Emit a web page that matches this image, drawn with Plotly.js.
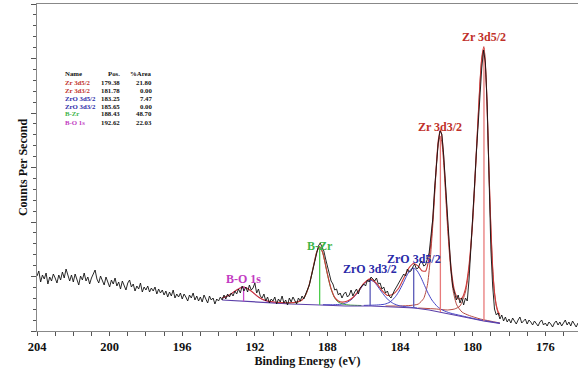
<!DOCTYPE html>
<html><head><meta charset="utf-8">
<script src="https://cdn.plot.ly/plotly-3.0.1.min.js"></script>
<style>html,body{margin:0;padding:0;background:#fff}#chart{width:578px;height:370px}</style>
</head><body><div id="chart"></div>
<script>
// ---- raw spectrum (Binding energy grid 204.0 -> 174.2 eV, step 0.1) ----
const E_START = 204.0, E_STEP = 0.1;
const spectrum = [
 55,60,49,56,52,58,47,54,50,57,
 53,48,56,51,59,53,62,55,50,56,
 49,57,52,46,55,51,58,50,54,47,
 53,58,61,52,48,55,50,46,54,49,
 44,51,47,53,45,49,42,50,46,41,
 48,51,44,47,40,45,42,48,39,44,
 41,45,39,43,40,44,37,42,38,41,
 36,40,34,39,35,41,33,37,34,38,
 32,37,34,30,36,33,38,31,35,30,
 34,29,36,32,28,35,31,33,27,32,
 30,34,31,36,32,37,34,38,35,40,
 37,42,38,45,40,44,39,46,41,43,
 48,38,42,35,33,37,30,34,28,32,
 30,34,27,32,29,35,28,31,26,33,
 29,34,30,27,33,30,35,32,37,42,
 46,54,62,70,78,85,88,84,80,72,
 64,58,50,47,41,42,36,38,33,37,
 39,34,36,41,35,39,42,37,43,45,
 47,45,51,49,54,52,50,53,47,48,
 42,44,38,40,35,33,38,41,44,47,
 50,53,57,55,62,59,60,64,67,62,
 63,68,70,65,66,72,78,95,112,142,
 168,188,200,197,176,148,113,86,62,45,
 38,31,36,28,33,26,33,30,52,80,
 111,145,178,210,240,263,281,268,225,160,
 82,45,22,16,18,12,16,10,14,9,
 12,8,13,10,7,11,14,8,10,12,
 7,11,9,6,10,8,5,9,11,6,
 8,5,9,7,4,8,10,6,9,5,
 8,11,6,9,5,10,7,4,8
];
const energy = spectrum.map((_, i) => +(E_START - i * E_STEP).toFixed(1));

// ---- fit: background ----
const bgE = [193.8,192,190,188.4,187,185.6,184.4,183.2,182.4,181.8,181,180.2,179.4,178.7,178.5];
const bgC = [31,29,27,26,25,25,24,23,21,19,16,13,10,8,7.5];

// ---- fit: components ----
const zr35E = [183.0,182.0,181.4,181.0,180.7,180.4,180.2,180.0,179.8,179.6,179.5,179.38,179.25,179.1,179.0,178.9,178.8,178.7,178.6,178.5];
const zr35C = [23,22,21,22,25,39,63,109,177,247,272,283,247,157,103,62,38,25,18,15];
const zr33E = [184.8,184.0,183.4,183.0,182.7,182.5,182.35,182.2,182.1,182.0,181.9,181.78,181.68,181.58,181.48,181.38,181.23,181.08,180.88,180.58,180.18,179.58,178.78,178.5];
const zr33C = [25,25,25.6,26.9,32.6,45.5,69.2,105.4,135.1,164.7,186.7,195,185.9,163.2,133,102.6,65.4,40.5,26.1,18.8,15.4,12,9,8];
const zro35E = [186.0,185.3,184.85,184.55,184.25,184.05,183.85,183.65,183.45,183.25,183.05,182.85,182.65,182.45,182.25,181.95,181.65,181.25,180.65,179.75,178.5];
const zro35C = [25.6,26,26.8,29,34.5,40,47,54.7,60.8,63,60,53.5,45.4,37.5,31,24.5,20.8,18,15.4,11.7,7.8];
const zro33E = [188.25,187.65,187.25,186.95,186.65,186.45,186.25,186.05,185.85,185.65,185.45,185.25,185.05,184.85,184.65,184.35,184.05,183.65,183.05];
const zro33C = [26.3,26.3,26.8,28.3,31.9,35.7,40.4,45.4,49.4,51,49.3,45.1,39.9,35.1,31.1,27.3,25.3,24.2,22.9];
const bzrE = [190.73,190.13,189.73,189.43,189.23,189.03,188.88,188.73,188.58,188.43,188.28,188.13,187.98,187.83,187.63,187.43,187.13,186.73,186.13];
const bzrC = [27.9,28,28.5,30.5,34.9,44.3,55.3,68.2,79.4,84,79.2,67.8,54.7,43.5,33.9,29.2,26.8,25.9,25.5];
const boE = [193.8,193.6,193.4,193.2,193.0,192.8,192.62,192.42,192.22,192.02,191.82,191.62,191.42,191.0,190.4];
const boC = [32.9,34,36,38.5,41.1,43.3,44,42.8,40,36.9,34,31.7,30.2,28.7,27.7];

// ---- fit: envelope ----
const envE = [193.8,193.4,193.0,192.62,192.2,191.8,191.4,190.8,190.2,189.8,189.4,189.2,189.0,188.8,188.6,188.43,188.25,188.0,187.8,187.6,
 187.4,187.2,186.9,186.6,186.3,186.0,185.65,185.3,185.0,184.7,184.4,184.1,183.8,183.5,183.25,183.0,182.8,182.6,182.4,182.3,
 182.2,182.1,182.0,181.9,181.78,181.7,181.6,181.5,181.4,181.3,181.2,181.1,181.0,180.8,180.6,180.4,180.2,180.0,179.8,179.6,
 179.5,179.38,179.25,179.1,179.0,178.9,178.8,178.7,178.6,178.5];
const envC = [32.9,36,41.1,44,40,34,30.5,28.8,28.3,28.6,31,36.2,46.6,62.5,78.6,84.4,77.7,56.9,42.3,33.6,
 30,28.9,29.9,33.5,39.8,47.6,52.1,47.7,40.6,35.5,36.7,42.2,52.8,63.3,67.5,64.8,60.3,59.8,73.2,88.9,
 111.3,138.7,167,190.1,201.1,194.9,174,144.7,113.9,86.4,64.9,49.8,40.1,32,32.8,42.2,66.2,111.8,179.2,248.5,
 273.3,284.4,247.9,158.8,103.4,63.1,38.8,25.9,19.3,16.5];

// ---- peak table ----
const peakNames = ["Zr 3d5/2","Zr 3d3/2","ZrO 3d5/2","ZrO 3d3/2","B-Zr","B-O 1s"];
const peakPos   = [179.38, 181.78, 183.25, 185.65, 188.43, 192.62];
const peakArea  = [21.80, 0.00, 7.47, 0.00, 48.70, 22.03];
const peakTop   = [283, 195, 63, 51, 84, 44];
const peakBase  = [10, 19, 23, 25, 26, 29.7];
const xTicks    = [204, 200, 196, 192, 188, 184, 180, 176];

// ---- styles ----
const labelColor = ["#c0302a","#c0302a","#2a2aa8","#2a2aa8","#3db54a","#c23bc2"];
const compColor  = ["#b54a42","#b54a42","#4646c8","#4646c8","#3a9e3a","#c050c0"];
const vlineColor = ["#e87a7a","#e87a7a","#5a5ab8","#5a5ab8","#4ccc4c","#cc48cc"];
const labelShift = [11, 9, 9, 11, 1, 8];
const SERIF = "Liberation Serif, Times New Roman, serif";

const L = 37, R = 578, T = 4, B = 331;
const px = x => (x - L) / (R - L);
const py = y => (B - y) / (B - T);

const traces = [];
const comps = [[zr35E,zr35C],[zr33E,zr33C],[zro35E,zro35C],[zro33E,zro33C],[bzrE,bzrC],[boE,boC]];
comps.forEach((c, i) => traces.push({x:c[0], y:c[1], mode:'lines', line:{color:compColor[i], width:1, shape:'spline', smoothing:0.6}, hoverinfo:'skip'}));
traces.push({x:bgE, y:bgC, mode:'lines', line:{color:'#5b3fa8', width:1.2}, hoverinfo:'skip'});
traces.push({x:envE, y:envC, mode:'lines', line:{color:'#cc3a3a', width:1.1, shape:'spline', smoothing:0.5}, hoverinfo:'skip'});
peakPos.forEach((p, i) => traces.push({x:[p,p], y:[peakBase[i], peakTop[i]], mode:'lines', line:{color:vlineColor[i], width:1.3}, hoverinfo:'skip'}));
traces.push({x:energy, y:spectrum, mode:'lines', line:{color:'#111', width:0.9}, name:'Counts'});

const ann = [];
peakNames.forEach((n, i) => ann.push({x:peakPos[i], y:peakTop[i], xref:'x', yref:'y', text:n, showarrow:false, yshift:labelShift[i],
  xanchor:'center', yanchor:'middle', font:{family:SERIF, size:12, color:labelColor[i], weight:'bold'}}));
// table
const tf = (c) => ({family:SERIF, size:6.8, color:c, weight:'bold'});
const rowY = 74, rowH = 8;
ann.push({x:px(63), y:py(rowY), xref:'paper', yref:'paper', text:'Name', showarrow:false, xanchor:'left', yanchor:'middle', font:tf('#111')});
ann.push({x:px(122), y:py(rowY), xref:'paper', yref:'paper', text:'Pos.', showarrow:false, xanchor:'right', yanchor:'middle', font:tf('#111')});
ann.push({x:px(154), y:py(rowY), xref:'paper', yref:'paper', text:'%Area', showarrow:false, xanchor:'right', yanchor:'middle', font:tf('#111')});
peakNames.forEach((n, i) => {
  const yy = py(rowY + rowH * (i + 1));
  ann.push({x:px(63), y:yy, xref:'paper', yref:'paper', text:n, showarrow:false, xanchor:'left', yanchor:'middle', font:tf(labelColor[i])});
  ann.push({x:px(122), y:yy, xref:'paper', yref:'paper', text:peakPos[i].toFixed(2), showarrow:false, xanchor:'right', yanchor:'middle', font:tf('#111')});
  ann.push({x:px(154), y:yy, xref:'paper', yref:'paper', text:peakArea[i].toFixed(2), showarrow:false, xanchor:'right', yanchor:'middle', font:tf('#111')});
});

const layout = {
  width:578, height:370, margin:{l:L, r:0, t:T, b:370-B},
  paper_bgcolor:'#fff', plot_bgcolor:'#fff', showlegend:false,
  xaxis:{range:[204,174.2], tickvals:xTicks, ticktext:xTicks.map(String), ticks:'outside', ticklen:4, tickcolor:'#555',
    minor:{dtick:1, ticks:'outside', ticklen:4, tickcolor:'#555'},
    showline:true, linecolor:'#888', linewidth:1, mirror:true, showgrid:false, zeroline:false,
    tickfont:{family:SERIF, size:12.5, color:'#111', weight:'bold'},
    title:{text:'Binding Energy (eV)', font:{family:SERIF, size:12, color:'#111', weight:'bold'}, standoff:1}},
  yaxis:{range:[0,327], tick0:0, dtick:54.5, ticks:'outside', ticklen:5, tickcolor:'#555', showticklabels:false,
    minor:{dtick:10.9, ticks:'outside', ticklen:3, tickcolor:'#555'},
    showline:true, linecolor:'#888', linewidth:1, showgrid:false, zeroline:false,
    title:{text:'Counts Per Second', font:{family:SERIF, size:12, color:'#111', weight:'bold'}, standoff:0}},
  annotations:ann
};
Plotly.newPlot('chart', traces, layout, {displayModeBar:false, staticPlot:true});
</script>
</body></html>
